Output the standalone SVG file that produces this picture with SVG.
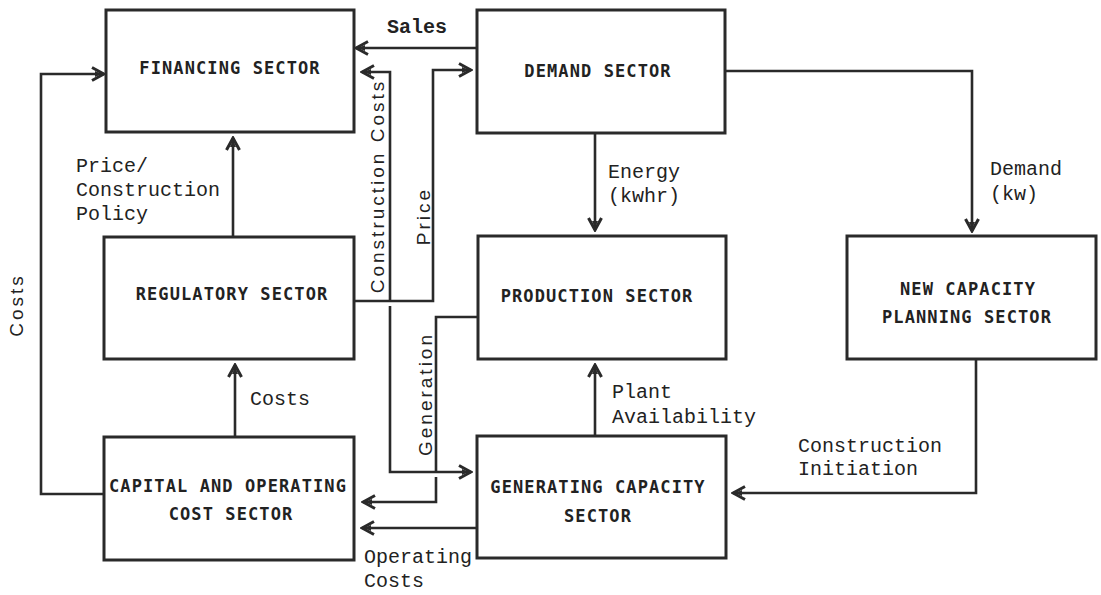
<svg xmlns="http://www.w3.org/2000/svg" width="1101" height="595" viewBox="0 0 1101 595">
<defs>
<marker id="arr" markerUnits="userSpaceOnUse" markerWidth="18" markerHeight="18" viewBox="0 0 18 18" refX="16" refY="9" orient="auto">
<path d="M4,2.5 L16,9 L4,15.5" fill="none" stroke="#2a2a2a" stroke-width="3" stroke-linejoin="miter"/>
<path d="M7,6 L14,9 L7,12 Z" fill="#2a2a2a"/>
</marker>
</defs>
<style>
.box{fill:#fff;stroke:#2a2a2a;stroke-width:3}
.bt{font-family:"DejaVu Sans Mono",monospace;font-weight:bold;font-size:17px;letter-spacing:1.1px;fill:#222;text-anchor:middle}
.ln{fill:none;stroke:#2a2a2a;stroke-width:2.6}
.ar{marker-end:url(#arr)}
.lb{font-family:"Liberation Mono","Courier New",monospace;font-size:20px;fill:#222}
.vl{font-family:"Liberation Sans",Arial,sans-serif;font-size:19px;letter-spacing:3px;fill:#222;text-anchor:middle}
</style>
<rect width="1101" height="595" fill="#fff"/>
<g id="connectors">
<path class="ln ar" d="M477,48 H356"/>
<path class="ln ar" d="M104,494 H41 V74 H104"/>
<path class="ln ar" d="M233,237 V138"/>
<path class="ln ar" d="M390,301 V72 H362"/>
<path class="ln ar" d="M354,301 H433 V70 H471"/>
<path class="ln ar" d="M595,133 V230"/>
<path class="ln ar" d="M725,71 H972 V231"/>
<path class="ln ar" d="M235,437 V365"/>
<path class="ln ar" d="M595,436 V365"/>
<path class="ln" d="M478,317 H436 V472"/>
<path class="ln ar" d="M436,477 V502 H363"/>
<path class="ln ar" d="M390,306 V472 H471"/>
<path class="ln ar" d="M477,528 H362"/>
<path class="ln ar" d="M976,359 V493 H733"/>
<text class="lb" x="387" y="33" font-weight="bold">Sales</text>
<text class="lb" x="76" y="172">Price/</text>
<text class="lb" x="76" y="196">Construction</text>
<text class="lb" x="76" y="220">Policy</text>
<text class="lb" x="608" y="178">Energy</text>
<text class="lb" x="608" y="202">(kwhr)</text>
<text class="lb" x="990" y="175">Demand</text>
<text class="lb" x="990" y="200">(kw)</text>
<text class="lb" x="250" y="405">Costs</text>
<text class="lb" x="612" y="398">Plant</text>
<text class="lb" x="612" y="423">Availability</text>
<text class="lb" x="798" y="452">Construction</text>
<text class="lb" x="798" y="475">Initiation</text>
<text class="lb" x="364" y="563">Operating</text>
<text class="lb" x="364" y="587">Costs</text>
<text class="vl" transform="translate(23,305) rotate(-90)">Costs</text>
<text class="vl" transform="translate(384,186) rotate(-90)">Construction Costs</text>
<text class="vl" transform="translate(430,216) rotate(-90)">Price</text>
<text class="vl" transform="translate(432,394) rotate(-90)">Generation</text>
</g>
<g id="financing"><rect class="box" x="106" y="10" width="248" height="122"/><text class="bt" x="230" y="74">FINANCING SECTOR</text></g>
<g id="demand"><rect class="box" x="477" y="10" width="248" height="123"/><text class="bt" x="598" y="77">DEMAND SECTOR</text></g>
<g id="regulatory"><rect class="box" x="104" y="237" width="250" height="122"/><text class="bt" x="232" y="300">REGULATORY SECTOR</text></g>
<g id="production"><rect class="box" x="478" y="236" width="248" height="123"/><text class="bt" x="597" y="302">PRODUCTION SECTOR</text></g>
<g id="newcapacity"><rect class="box" x="847" y="236" width="249" height="123"/><text class="bt" x="968" y="295">NEW CAPACITY</text><text class="bt" x="967" y="323">PLANNING SECTOR</text></g>
<g id="capital"><rect class="box" x="104" y="437" width="250" height="123"/><text class="bt" x="228" y="492">CAPITAL AND OPERATING</text><text class="bt" x="231" y="520">COST SECTOR</text></g>
<g id="generating"><rect class="box" x="477" y="436" width="249" height="122"/><text class="bt" x="598" y="493">GENERATING CAPACITY</text><text class="bt" x="598" y="522">SECTOR</text></g>
</svg>
